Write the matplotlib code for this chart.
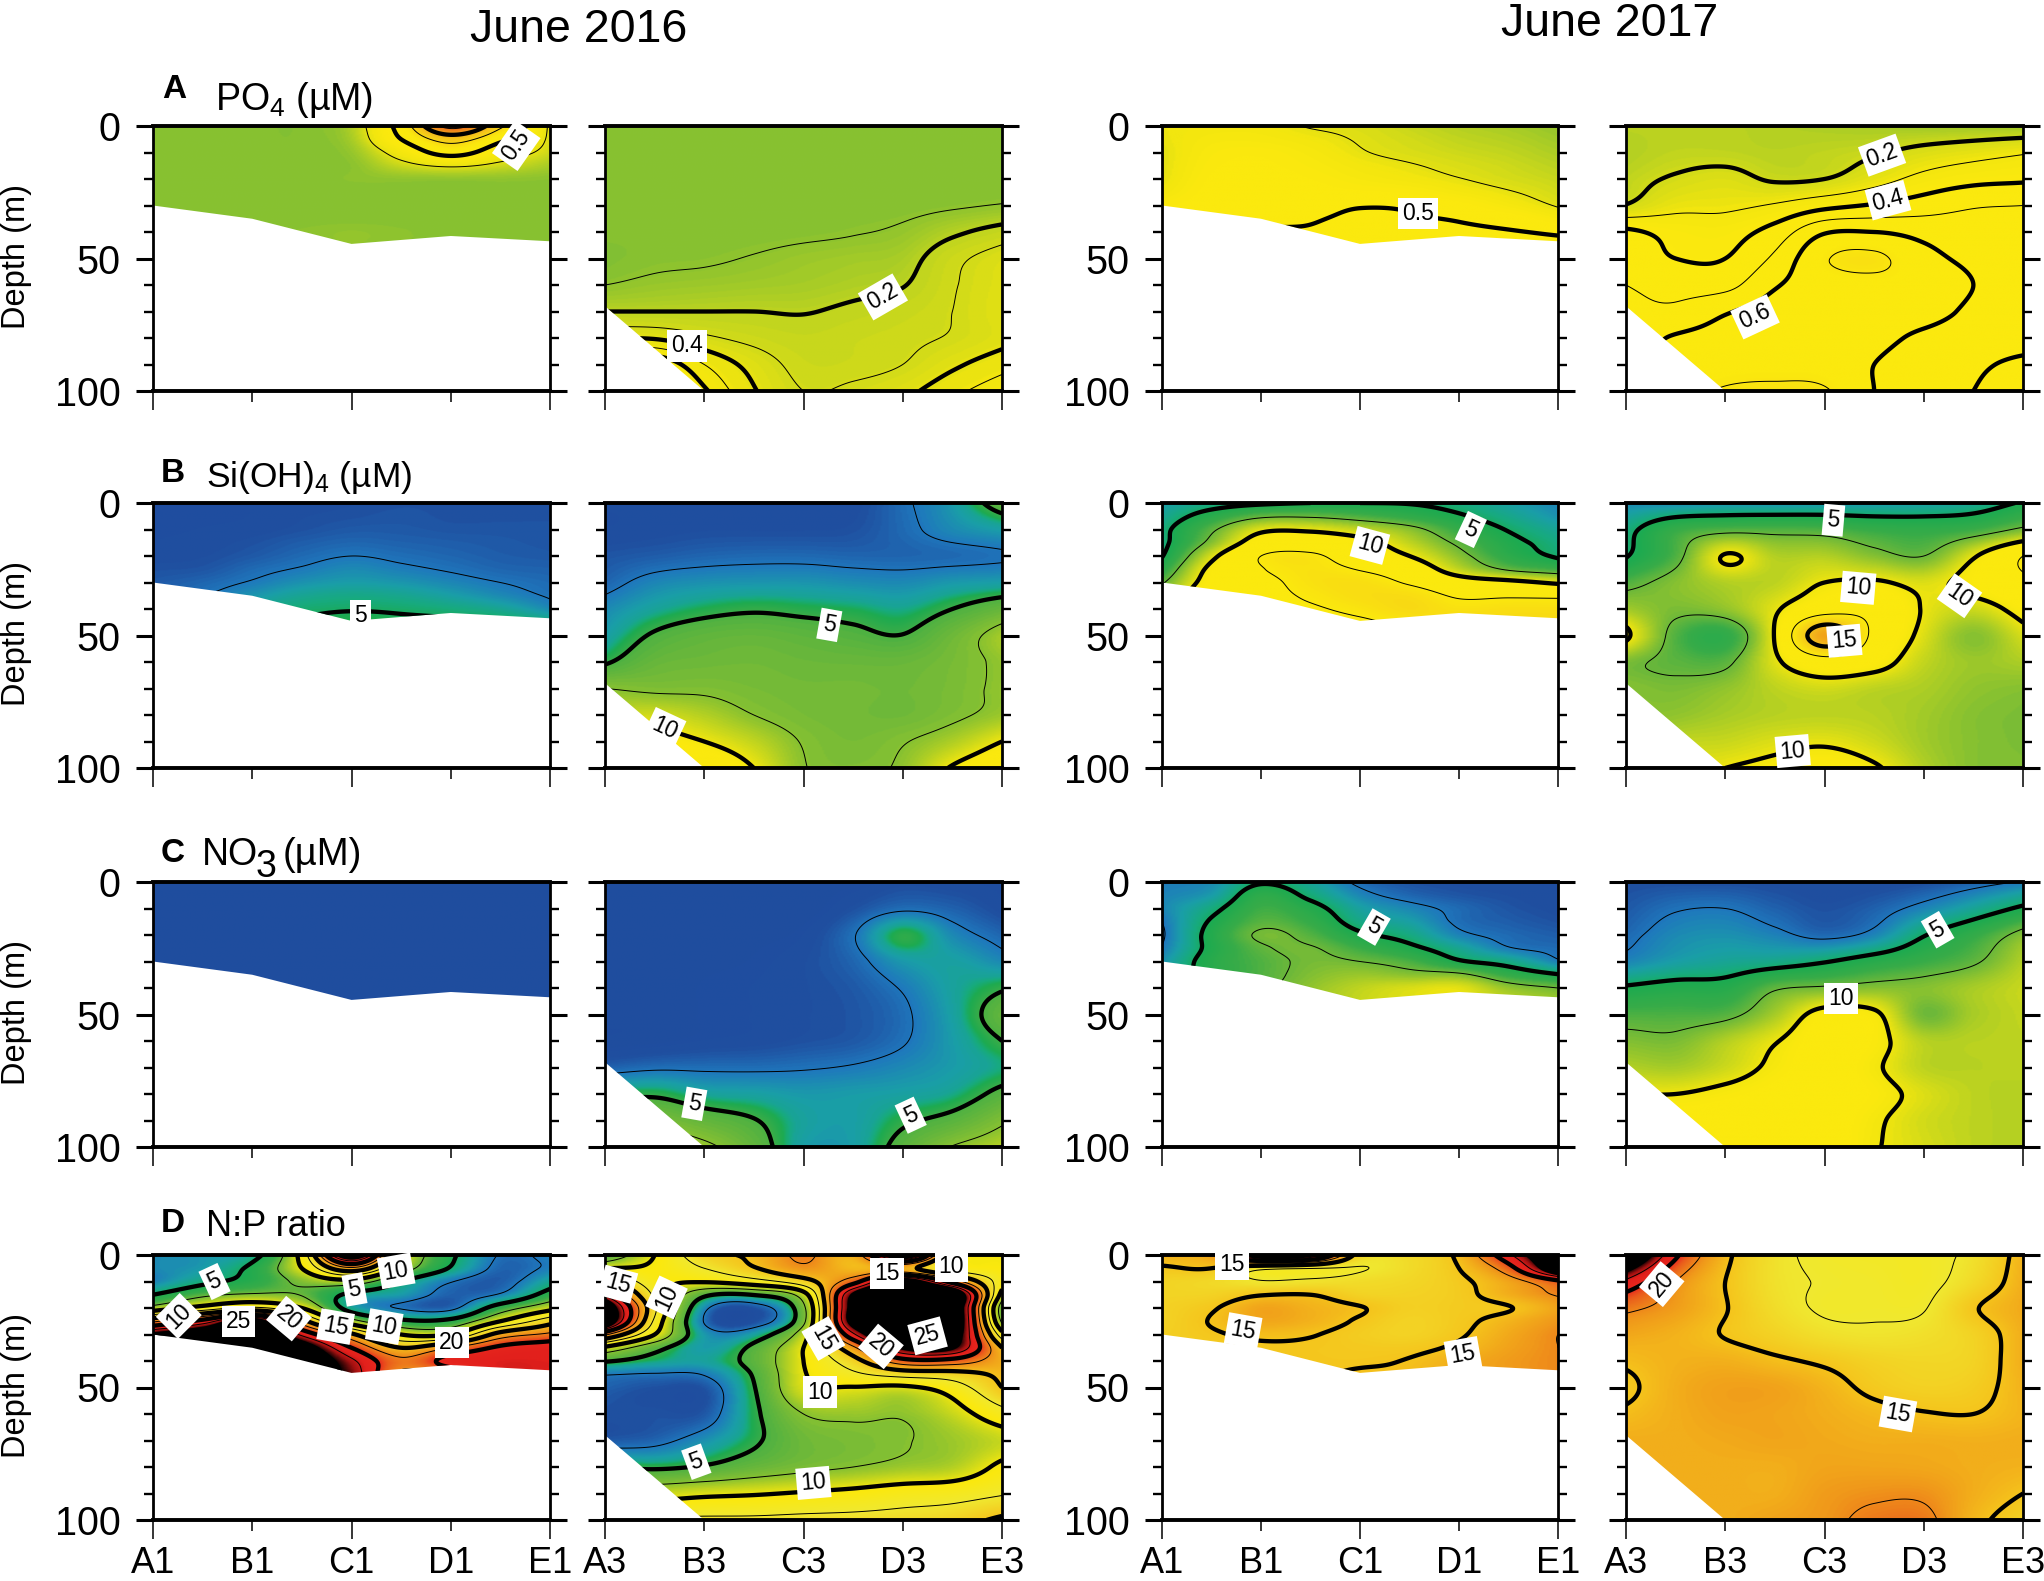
import numpy as np
import matplotlib
matplotlib.use('Agg')
import matplotlib.pyplot as plt
from matplotlib.colors import LinearSegmentedColormap, Normalize
from matplotlib.patches import Polygon

plt.rcParams['font.family'] = ['Liberation Sans', 'DejaVu Sans']
plt.rcParams['mathtext.default'] = 'regular'

W, H = 2044, 1581
STATIONS = [0, 0.5, 1, 1.5, 2, 2.5, 3, 3.5, 4]
D_SHALLOW = [0, 5, 10, 15, 20, 25, 30, 35, 40, 45]
D_DEEP = [0, 10, 20, 30, 40, 50, 60, 70, 80, 90, 100]
D_FINE = [0, 5, 10, 15, 20, 25, 30, 35, 40, 45, 50, 60, 70, 80, 90, 100]
BOTTOM_1 = [30, 35, 44.5, 41.5, 43.5]
TICKS_1 = ['A1', 'B1', 'C1', 'D1', 'E1']
TICKS_3 = ['A3', 'B3', 'C3', 'D3', 'E3']

PO4_16_1 = [
    [.08, .08, .08, .08, .16, .60, 1.35, .80, .22],
    [.08, .08, .08, .08, .14, .50, .85, .55, .22],
    [.08, .08, .08, .08, .11, .33, .58, .36, .20],
    [.08, .08, .08, .08, .09, .20, .27, .21, .14],
    [.08, .08, .08, .08, .09, .10, .10, .10, .09],
    [.08, .08, .08, .08, .08, .08, .08, .08, .08],
    [.08, .08, .08, .08, .08, .08, .08, .08, .08],
    [.08, .08, .08, .08, .08, .08, .08, .08, .08],
    [.08, .08, .08, .09, .10, .09, .08, .08, .08],
    [.08, .08, .08, .09, .10, .09, .08, .08, .08],
]
PO4_16_3 = [
    [.08, .08, .08, .08, .08, .08, .08, .08, .08],
    [.08, .08, .08, .08, .08, .08, .08, .08, .08],
    [.08, .08, .08, .08, .08, .08, .08, .08, .08],
    [.08, .08, .08, .08, .08, .08, .08, .09, .105],
    [.08, .08, .08, .08, .085, .095, .115, .18, .24],
    [.07, .085, .09, .105, .125, .14, .16, .27, .35],
    [.10, .12, .13, .14, .15, .17, .195, .29, .37],
    [.20, .20, .20, .20, .195, .22, .25, .30, .38],
    [.40, .39, .32, .27, .24, .26, .28, .31, .37],
    [.70, .70, .50, .36, .27, .27, .30, .38, .46],
    [.90, .90, .62, .41, .30, .32, .37, .47, .57],
]
PO4_17_1 = [
    [.28, .30, .30, .24, .22, .18, .15, .13, .10],
    [.27, .33, .33, .29, .24, .20, .17, .15, .12],
    [.25, .36, .38, .33, .26, .22, .19, .17, .14],
    [.25, .38, .40, .36, .30, .26, .22, .19, .16],
    [.26, .40, .42, .39, .34, .30, .255, .21, .18],
    [.30, .42, .43, .42, .40, .38, .32, .26, .20],
    [.38, .43, .45, .46, .49, .48, .42, .33, .24],
    [.42, .44, .47, .49, .52, .51, .49, .44, .34],
    [.42, .45, .505, .51, .54, .53, .52, .51, .48],
    [.42, .45, .50, .52, .56, .54, .54, .54, .53],
]
PO4_17_3 = [
    [.16, .16, .16, .15, .14, .13, .12, .12, .12],
    [.15, .17, .17, .16, .17, .19, .23, .26, .29],
    [.17, .21, .23, .19, .20, .26, .33, .37, .385],
    [.205, .27, .28, .31, .37, .41, .45, .49, .50],
    [.42, .37, .36, .44, .59, .60, .57, .55, .54],
    [.46, .40, .40, .52, .69, .72, .63, .58, .56],
    [.50, .47, .47, .59, .65, .67, .66, .60, .55],
    [.52, .52, .59, .64, .66, .66, .64, .58, .55],
    [.55, .61, .64, .66, .66, .63, .58, .55, .55],
    [.50, .63, .66, .67, .66, .60, .56, .58, .63],
    [.60, .66, .71, .72, .71, .60, .57, .60, .70],
]
SI_16_1 = [
    [1.2, 1.2, 1.3, 1.4, 1.5, 1.6, 1.6, 1.6, 1.6],
    [1.2, 1.2, 1.3, 1.5, 1.6, 1.7, 1.6, 1.6, 1.6],
    [1.2, 1.3, 1.4, 1.6, 1.8, 1.8, 1.7, 1.7, 1.7],
    [1.3, 1.4, 1.6, 1.9, 2.1, 2.0, 1.9, 1.8, 1.7],
    [1.4, 1.5, 1.8, 2.2, 2.5, 2.3, 2.1, 1.9, 1.8],
    [1.6, 1.7, 2.2, 2.6, 3.0, 2.7, 2.4, 2.1, 2.0],
    [1.8, 2.1, 2.6, 3.2, 3.5, 3.3, 2.9, 2.5, 2.2],
    [2.0, 2.5, 3.3, 4.0, 4.3, 4.1, 3.6, 3.0, 2.4],
    [2.5, 3.5, 4.2, 4.7, 4.9, 4.8, 4.5, 4.0, 3.0],
    [3.0, 4.5, 5.5, 5.2, 5.5, 5.3, 5.3, 5.2, 4.5],
]
SI_16_3 = [
    [1.3, 1.3, 1.3, 1.3, 1.3, 1.4, 2.3, 3.5, 6.0],
    [1.3, 1.4, 1.5, 1.5, 1.5, 1.6, 2.2, 3.0, 3.6],
    [1.7, 1.9, 2.1, 2.2, 2.2, 2.1, 2.1, 2.2, 2.4],
    [2.1, 2.9, 3.2, 3.3, 3.3, 3.1, 3.0, 3.4, 3.6],
    [3.0, 3.9, 4.5, 4.8, 4.6, 4.4, 4.1, 5.0, 6.2],
    [3.6, 5.2, 5.9, 6.1, 5.8, 5.4, 5.05, 6.5, 8.2],
    [4.8, 6.2, 6.5, 6.6, 6.4, 6.3, 6.3, 6.9, 7.8],
    [7.5, 7.2, 7.2, 6.9, 6.7, 6.7, 6.6, 7.0, 7.8],
    [9.0, 9.2, 8.5, 7.5, 6.9, 6.7, 6.6, 7.2, 8.0],
    [12, 11, 10, 8.8, 7.4, 6.9, 7.4, 8.4, 10],
    [13, 13, 12, 10, 7.6, 7.2, 7.8, 10.2, 12],
]
SI_17_1 = [
    [3.5, 4.2, 4.7, 5.0, 5.0, 4.9, 4.4, 3.6, 2.8],
    [4.0, 5.8, 7.2, 7.3, 6.8, 6.1, 5.2, 4.2, 3.2],
    [4.5, 7.2, 9.6, 9.7, 9.0, 8.0, 6.3, 4.9, 3.9],
    [4.5, 8.0, 11, 11.3, 10.6, 9.0, 7.2, 5.5, 4.4],
    [4.9, 9.5, 12.5, 12.8, 11.3, 10, 8.0, 6.0, 4.8],
    [6.0, 10.5, 12.4, 13, 12.4, 11.3, 9.0, 7.3, 6.5],
    [7.3, 10.9, 12, 13, 13.2, 12.3, 11, 10.5, 9.7],
    [8.5, 11.5, 12, 12.7, 13.3, 13.3, 12.3, 12.3, 12.2],
    [9.5, 12, 12, 12.3, 12.9, 13.5, 13, 13.2, 13.2],
    [9.5, 12, 11.5, 11.8, 12.2, 12.9, 13.5, 13.5, 13.5],
]
SI_17_3 = [
    [3.0, 3.0, 3.2, 3.2, 3.3, 3.4, 3.6, 4.0, 5.2],
    [4.5, 6.4, 7.0, 7.0, 6.9, 6.4, 6.2, 6.6, 7.8],
    [4.9, 7.0, 10.1, 8.8, 8.8, 8.0, 7.5, 9.8, 12.5],
    [7.0, 8.0, 8.8, 9.0, 10, 10.2, 9.6, 10.6, 12],
    [8.5, 7.8, 8.2, 9.8, 11.5, 11.8, 9.9, 9.3, 10.6],
    [10.3, 7.0, 6.2, 10.1, 16.5, 12, 9.6, 8.0, 9.5],
    [7.8, 7.2, 7.2, 9.7, 11.5, 10.7, 9.1, 8.4, 8.7],
    [8.0, 7.8, 8.2, 9.0, 9.4, 9.0, 8.7, 8.2, 8.0],
    [8.0, 8.2, 8.6, 8.9, 9.0, 8.9, 8.5, 8.0, 7.8],
    [8.0, 9.0, 9.2, 9.6, 9.8, 9.3, 8.5, 8.0, 7.8],
    [8.0, 9.5, 10, 10.4, 10.9, 10.2, 8.8, 8.0, 7.9],
]
NO3_16_1 = [
    [1.0, 1.0, 1.0, 1.0, 1.0, 1.0, 1.0, 1.0, 1.0],
    [1.0, 1.0, 1.0, 1.0, 1.0, 1.0, 1.0, 1.0, 1.0],
    [1.0, 1.0, 1.0, 1.0, 1.0, 1.0, 1.0, 1.0, 1.0],
    [1.0, 1.0, 1.0, 1.0, 1.0, 1.0, 1.0, 1.0, 1.0],
    [1.0, 1.0, 1.0, 1.0, 1.0, 1.0, 1.0, 1.0, 1.0],
    [1.0, 1.0, 1.0, 1.0, 1.0, 1.0, 1.0, 1.0, 1.0],
    [1.0, 1.0, 1.0, 1.0, 1.0, 1.0, 1.0, 1.0, 1.0],
    [1.0, 1.0, 1.0, 1.0, 1.0, 1.0, 1.0, 1.0, 1.0],
    [1.0, 1.0, 1.0, 1.0, 1.0, 1.0, 1.0, 1.0, 1.0],
    [1.0, 1.0, 1.0, 1.0, 1.0, 1.0, 1.0, 1.0, 1.0],
]
NO3_16_3 = [
    [1.0, 1.0, 1.0, 1.0, 1.0, 1.1, 1.4, 1.3, 1.2],
    [1.0, 1.0, 1.0, 1.0, 1.0, 1.6, 2.3, 2.0, 1.4],
    [1.0, 1.0, 1.0, 1.1, 1.3, 2.4, 4.7, 3.0, 2.1],
    [1.0, 1.0, 1.1, 1.2, 1.5, 2.1, 3.4, 3.7, 3.0],
    [1.0, 1.0, 1.2, 1.3, 1.5, 1.8, 2.6, 3.8, 4.8],
    [1.0, 1.0, 1.2, 1.3, 1.5, 1.7, 2.3, 3.7, 6.0],
    [1.0, 1.1, 1.3, 1.4, 1.6, 1.8, 2.4, 3.5, 5.0],
    [2.0, 2.3, 2.3, 2.3, 2.4, 2.6, 3.0, 3.5, 4.2],
    [4.5, 4.7, 3.9, 3.7, 3.4, 3.5, 3.7, 4.1, 5.5],
    [7.0, 7.0, 6.0, 5.1, 3.8, 3.6, 4.7, 5.6, 7.2],
    [9.0, 9.0, 8.0, 6.0, 3.6, 3.6, 5.7, 7.6, 8.6],
]
NO3_17_1 = [
    [2.6, 3.0, 4.8, 3.8, 2.2, 1.6, 1.4, 1.3, 1.2],
    [2.8, 3.5, 6.0, 4.6, 2.9, 2.1, 1.7, 1.5, 1.3],
    [2.9, 4.5, 6.6, 5.6, 3.7, 2.9, 2.2, 1.7, 1.4],
    [2.5, 5.2, 7.1, 6.3, 4.3, 3.6, 2.3, 1.9, 1.6],
    [2.3, 5.6, 7.7, 7.0, 5.3, 4.4, 2.8, 2.2, 1.9],
    [2.6, 5.5, 7.3, 7.6, 6.5, 5.4, 4.0, 2.6, 2.2],
    [3.2, 5.8, 7.0, 7.7, 7.5, 6.8, 5.2, 4.3, 2.7],
    [3.5, 5.8, 7.0, 7.9, 8.3, 8.0, 7.8, 6.2, 5.1],
    [4.0, 5.8, 7.1, 8.2, 9.0, 9.5, 9.7, 8.2, 7.5],
    [4.2, 6.0, 7.2, 8.4, 9.2, 9.7, 9.8, 9.0, 8.5],
]
NO3_17_3 = [
    [1.5, 1.5, 1.5, 1.4, 1.3, 1.3, 1.5, 2.0, 2.6],
    [1.8, 2.4, 2.5, 2.0, 1.6, 2.0, 2.9, 4.0, 5.3],
    [2.2, 3.0, 3.2, 2.8, 2.2, 2.9, 4.9, 6.3, 8.0],
    [2.9, 3.6, 4.0, 4.3, 4.9, 5.8, 6.5, 7.3, 8.8],
    [5.2, 5.6, 5.7, 7.3, 7.7, 8.0, 8.0, 8.6, 9.2],
    [6.9, 6.9, 7.1, 8.6, 10.6, 10.3, 7.6, 8.6, 9.1],
    [7.9, 7.8, 8.8, 9.9, 11, 10.5, 8.9, 8.9, 9.0],
    [8.8, 8.6, 9.3, 10.3, 11, 10.2, 9.0, 8.9, 9.0],
    [10, 10, 10.4, 10.8, 11, 10.5, 9.6, 9.0, 8.8],
    [11, 11, 11, 11, 11, 10.2, 9.4, 9.0, 8.8],
    [11, 11, 11, 11, 11, 10.1, 9.5, 9.0, 8.8],
]
NP_16_1 = [
    [3.0, 3.3, 4.2, 11, 27, 11, 5.5, 2.4, 2.8],
    [3.0, 3.5, 5.5, 10, 17, 9.0, 4.8, 2.1, 2.7],
    [2.8, 4.5, 5.8, 8.0, 9.0, 5.0, 2.6, 1.9, 4.0],
    [5.0, 7.0, 7.8, 7.4, 4.5, 3.5, 2.0, 2.7, 6.0],
    [8.5, 11, 13, 10, 4.0, 2.4, 2.1, 6.2, 9.2],
    [17, 21, 26, 16, 8.5, 5.5, 5.7, 10, 14],
    [25, 27, 29, 22, 15.5, 10, 10, 16, 18],
    [27, 28, 29, 26.5, 20, 15, 17.5, 20.5, 21.5],
    [27, 29, 29, 28, 23, 18, 21, 22, 22],
    [27, 29, 29, 28, 24, 17, 18, 22, 22],
]
NP_16_3 = [
    [5.0, 10, 14, 15.5, 18, 16, 27, 12, 10],
    [10, 10.5, 12.5, 14.8, 17, 15.5, 16, 11.5, 10.5],
    [16, 11, 10.2, 11.5, 14, 19, 26, 19, 11],
    [22, 12, 5.5, 5.1, 9.0, 25, 30, 28, 9.0],
    [28, 13, 3.0, 1.6, 7.0, 26, 30, 28, 6.0],
    [28, 12, 2.4, 1.5, 7.0, 26, 30, 28, 7.0],
    [18, 10, 3.4, 3.8, 9.0, 22, 30, 27, 11],
    [9.5, 5.8, 3.5, 5.5, 10, 17, 25, 25, 15],
    [5.2, 4.2, 3.8, 5.8, 10, 14, 19, 19, 16],
    [2.6, 2.4, 2.6, 5.2, 9.8, 12, 13.5, 14, 15.5],
    [2.0, 1.6, 1.7, 4.9, 9.5, 9.9, 9.6, 11.3, 15],
    [1.6, 1.6, 1.8, 4.6, 7.5, 7.9, 7.7, 9.0, 11.5],
    [1.8, 2.1, 3.2, 4.7, 6.5, 7.0, 7.4, 8.0, 9.0],
    [5.0, 4.7, 5.2, 6.2, 7.0, 7.5, 8.0, 8.5, 10.5],
    [9.0, 9.0, 9.5, 9.8, 10.2, 10.6, 11.2, 11.5, 12.3],
    [14, 13, 13, 13, 13.2, 13.3, 13.5, 14, 15.5],
]
NP_17_1 = [
    [15.9, 17, 27, 25, 14, 13.5, 15.5, 22, 30],
    [14.8, 15, 13.2, 12.6, 12.4, 13.4, 15, 19, 28],
    [14, 13.6, 12.6, 12.9, 13.3, 13.7, 14.6, 16.5, 19.5],
    [13.9, 14, 14.9, 15, 14, 14, 14.5, 16, 17.7],
    [14, 14.8, 16.4, 15.8, 15.1, 14.2, 14.5, 14.9, 16.5],
    [14, 15.1, 16.3, 15.8, 14.8, 14, 14.6, 15.7, 17],
    [14.2, 14.8, 15.3, 15.1, 14.4, 14, 14.8, 16.2, 17.5],
    [14.2, 14.5, 14.8, 14.8, 14.6, 14.6, 15.3, 16.5, 17.5],
    [14.2, 14.5, 14.8, 14.8, 14.8, 15.1, 16, 16.8, 17.5],
    [14.2, 14.5, 14.8, 14.8, 15.2, 15.3, 16.2, 16.8, 17.5],
]
NP_17_3 = [
    [30, 20.5, 15.5, 13, 12.2, 12, 12, 13, 15.8],
    [22, 17.5, 15, 13, 12.4, 12.2, 12, 13.5, 16],
    [18, 16.7, 15.1, 13.3, 12.3, 12.3, 12.4, 14.8, 16.2],
    [16.3, 15.8, 14.9, 14, 13.1, 12.8, 13.1, 14, 16],
    [15.3, 15.8, 15.9, 15.3, 14.7, 14, 13.7, 14, 16],
    [14.6, 16, 16.6, 16.5, 15.7, 14.6, 14.1, 14.4, 15.8],
    [15.3, 16, 16.5, 16.4, 16, 15.5, 15.1, 15, 15.7],
    [16, 16, 16.2, 16.4, 16.2, 16, 16, 15.9, 16],
    [16, 16, 16, 16, 16.4, 16.4, 16.3, 16, 15.8],
    [16, 16, 16, 16, 16.8, 17.2, 17.2, 16, 15],
    [16, 16, 16, 16.5, 17, 18, 18, 15.6, 14],
]

# contour labels: station, depth, text, rotation
LAB_PO4_16_1 = [(3.66, 7.4, '0.5', 55)]
LAB_PO4_16_3 = [(2.8, 64.5, '0.2', 30), (.83, 83, '0.4', 0)]
LAB_PO4_17_1 = [(2.59, 33, '0.5', 0)]
LAB_PO4_17_3 = [(2.58, 11, '0.2', 20), (2.64, 28, '0.4', 15), (1.3, 72, '0.6', 25)]
LAB_SI_16_1 = [(2.09, 42.4, '5', 0)]
LAB_SI_16_3 = [(2.26, 46, '5', -10), (.6, 85, '10', -25)]
LAB_SI_17_1 = [(3.12, 10, '5', -25), (2.1, 16, '10', -15)]
LAB_SI_17_3 = [(2.09, 6.5, '5', -5), (2.34, 32, '10', -5), (3.36, 35, '10', -35),
               (2.2, 52, '15', 5), (1.68, 93.6, '10', 5)]
LAB_NO3_16_1 = []
LAB_NO3_16_3 = [(.9, 83.7, '5', -10), (3.08, 88, '5', 25)]
LAB_NO3_17_1 = [(2.14, 17, '5', -30)]
LAB_NO3_17_3 = [(3.14, 18, '5', 30), (2.17, 44, '10', 0)]
LAB_NP_16_1 = [(.62, 10, '5', 25), (2.45, 6, '10', 10), (2.03, 13, '5', 10), (.26, 23, '10', 45),
               (.86, 25, '25', 0), (1.37, 24, '20', -40), (1.84, 27, '15', -10),
               (2.33, 27, '10', -10), (3.01, 33, '20', 0)]
LAB_NP_16_3 = [(.13, 11, '15', -15), (.62, 16, '10', 65), (2.84, 7, '15', 0), (3.49, 4.4, '10', 0),
               (2.2, 31.5, '15', -60), (2.78, 34.5, '20', -40), (3.25, 30.5, '25', 15),
               (2.17, 51.7, '10', 0), (.92, 78, '5', 20), (2.1, 86, '10', 5)]
LAB_NP_17_1 = [(.71, 3.5, '15', 0), (.82, 28.5, '15', -10), (3.04, 37.5, '15', 10)]
LAB_NP_17_3 = [(.36, 11, '20', 50), (2.74, 60, '15', -10)]

THICK_5 = [5, 10, 15, 20, 25]
THIN_5 = [2.5, 7.5, 12.5, 17.5, 22.5]
ROWS = [
    [(PO4_16_1, D_SHALLOW, LAB_PO4_16_1, [.5, 1.0, 1.5], [.25, .75, 1.25]),
     (PO4_16_3, D_DEEP, LAB_PO4_16_3, [.2, .4, .6, .8], [.1, .3, .5, .7]),
     (PO4_17_1, D_SHALLOW, LAB_PO4_17_1, [.5], [.25]),
     (PO4_17_3, D_DEEP, LAB_PO4_17_3, [.2, .4, .6, .8], [.1, .3, .5, .7])],
    [(SI_16_1, D_SHALLOW, LAB_SI_16_1, THICK_5, THIN_5),
     (SI_16_3, D_DEEP, LAB_SI_16_3, THICK_5, THIN_5),
     (SI_17_1, D_SHALLOW, LAB_SI_17_1, THICK_5, THIN_5),
     (SI_17_3, D_DEEP, LAB_SI_17_3, THICK_5, THIN_5)],
    [(NO3_16_1, D_SHALLOW, LAB_NO3_16_1, THICK_5, THIN_5),
     (NO3_16_3, D_DEEP, LAB_NO3_16_3, THICK_5, THIN_5),
     (NO3_17_1, D_SHALLOW, LAB_NO3_17_1, THICK_5, THIN_5),
     (NO3_17_3, D_DEEP, LAB_NO3_17_3, THICK_5, THIN_5)],
    [(NP_16_1, D_SHALLOW, LAB_NP_16_1, THICK_5, THIN_5),
     (NP_16_3, D_FINE, LAB_NP_16_3, THICK_5, THIN_5),
     (NP_17_1, D_SHALLOW, LAB_NP_17_1, THICK_5, THIN_5),
     (NP_17_3, D_DEEP, LAB_NP_17_3, THICK_5, THIN_5)],
]

COL_X = [153, 605, 1162, 1626]
COL_W = [397, 397, 396, 397]
ROW_Y = [126, 503, 882, 1255]
ROW_H = 265


def make_cmap(mid):
    stops = [(0, '#1f4a9c'), (1.5, '#1f4fa0'), (2.5, '#1f78bd'), (3.5, '#1a9ea8'), (4.5, '#17ab7c'),
             (5.2, '#1daa50'), (6.5, '#38ac48'), (7.5, '#6cb83a'), (9, '#bfd41f'), (10, '#f2e60f'),
             (10.5, '#fbe90e'), (12.5, mid), (15, '#f5c41c'), (17, '#f0981a'), (19, '#ea5a1c'),
             (20, '#e8281e'), (22, '#e2201c'), (23.5, '#a01010'), (25, '#000000'), (30, '#000000')]
    return LinearSegmentedColormap.from_list('odv', [(v / 30, c) for v, c in stops])


cmap = make_cmap('#fbe90e')
cmap_np = make_cmap('#f0e830')
norm = Normalize(0, 30)


def upsample(xs, f, xq):
    # cubic hermite along axis 0
    xs = np.asarray(xs, float)
    m = np.gradient(f, xs, axis=0)
    i = np.clip(np.searchsorted(xs, xq) - 1, 0, len(xs) - 2)
    h = xs[i + 1] - xs[i]
    t = (xq - xs[i]) / h
    sh = (-1,) + (1,) * (f.ndim - 1)
    t = t.reshape(sh)
    h = h.reshape(sh)
    return ((2 * t**3 - 3 * t**2 + 1) * f[i] + (t**3 - 2 * t**2 + t) * h * m[i]
            + (-2 * t**3 + 3 * t**2) * f[i + 1] + (t**3 - t**2) * h * m[i + 1])


def px(x, y):
    return x / W, 1 - y / H


def to_colour_scale(fine, col, row):
    # each nutrient had its own colour stretch in the original sections
    if row == 0:
        if col == 1:
            return np.interp(fine, [.05, .08, .2, .4, .6, .9], [7.8, 8.0, 9.0, 9.8, 10.2, 10.6])
        if col == 0:
            return np.interp(fine, [.05, .08, .25, .5, .8, 1.0, 1.3, 1.6],
                             [7.8, 8.0, 9.8, 11, 14.5, 16.5, 19, 22])
        return np.interp(fine, [.05, .08, .2, .3, .4, .6, .8, 1.0],
                         [7.8, 8.0, 9.4, 10.1, 10.6, 11.5, 14, 16.5])
    if col == 1:
        return np.interp(fine, [0, 4, 5, 7.5, 10, 30], [0, 4, 6.9, 8, 10, 30])
    return fine


def draw_panel(ax, field, depths, labels, thick, thin, col, row):
    z = np.array(field, float)
    xq = np.linspace(0, 4, 240)
    dq = np.linspace(0, depths[-1], int(depths[-1] * 4) + 1)
    fine = upsample(depths, z, dq)
    fine = upsample(STATIONS, fine.T, xq).T
    shown = to_colour_scale(fine, col, row)
    if col % 2 == 0:
        verts = [(0, 0), (4, 0)] + [(4 - i, BOTTOM_1[4 - i]) for i in range(5)]
    else:
        verts = [(0, 0), (4, 0), (4, 100), (1, 100), (0, 68)]
    im = ax.imshow(shown, extent=[0, 4, depths[-1], 0], aspect='auto', norm=norm,
                   cmap=cmap_np if row == 3 else cmap, interpolation='bilinear', zorder=1)
    clip = Polygon(verts, transform=ax.transData, fill=False, edgecolor='none')
    ax.add_patch(clip)
    im.set_clip_path(clip)
    for levels, lw in ((thin, .7), (thick, 3.1)):
        cs = ax.contour(xq, dq, fine, levels=levels, colors='k', linewidths=lw, zorder=2)
        cs.set_clip_path(clip)
    for x, d, s, rot in labels:
        ax.text(x, d, s, rotation=rot, ha='center', va='center', fontsize=16.5, zorder=4,
                rotation_mode='anchor', bbox=dict(fc='white', ec='none', pad=3))
    ax.set_xlim(0, 4)
    ax.set_ylim(100, 0)
    ax.spines['top'].set_linewidth(2.8)
    ax.spines['bottom'].set_linewidth(2.8)
    ax.spines['left'].set_linewidth(2.0)
    ax.spines['right'].set_linewidth(2.0)
    ax.set_yticks([0, 50, 100])
    ax.set_yticks(np.arange(0, 101, 10), minor=True)
    ax.tick_params(axis='y', which='major', left=True, right=True, length=12, width=2.2, pad=11.5,
                   labelsize=28.5)
    ax.tick_params(axis='y', which='minor', left=True, right=True, length=6.5, width=1.7)
    ax.tick_params(axis='y', labelleft=(col % 2 == 0))
    ax.set_xticks(range(5))
    ax.tick_params(axis='x', length=14, width=1.1, pad=5, labelsize=26,
                   labelbottom=(row == 3))
    if row == 3:
        ax.set_xticklabels(TICKS_1 if col % 2 == 0 else TICKS_3)
    for i, tick in enumerate(ax.xaxis.get_major_ticks()):
        if i % 2 == 1:
            tick.tick1line.set_markersize(8)


fig = plt.figure(figsize=(W / 100, H / 100), dpi=100)
for r, panels in enumerate(ROWS):
    for c, (field, depths, labels, thick, thin) in enumerate(panels):
        ax = fig.add_axes([COL_X[c] / W, 1 - (ROW_Y[r] + ROW_H) / H, COL_W[c] / W, ROW_H / H])
        draw_panel(ax, field, depths, labels, thick, thin, c, r)
    fig.text(*px(17, ROW_Y[r] + ROW_H / 2 - 2), 'Depth (m)', rotation=90, ha='center', va='center', fontsize=23.5)

fig.text(*px(579, 30), 'June 2016', ha='center', va='center', fontsize=33.5)
fig.text(*px(1610, 24), 'June 2017', ha='center', va='center', fontsize=33.5)

fig.text(*px(174, 89), 'A', ha='center', va='center', fontsize=24, fontweight='bold')
fig.text(*px(215, 100), r'PO$_4$ (µM)', ha='left', va='center', fontsize=27)
fig.text(*px(173, 473), 'B', ha='center', va='center', fontsize=24, fontweight='bold')
fig.text(*px(206, 478), r'Si(OH)$_4$ (µM)', ha='left', va='center', fontsize=25.5)
fig.text(*px(173, 853), 'C', ha='center', va='center', fontsize=24, fontweight='bold')
fig.text(*px(202, 855), 'NO', ha='left', va='center', fontsize=27)
fig.text(*px(256, 867), '3', ha='left', va='center', fontsize=27)
fig.text(*px(283, 855), '(µM)', ha='left', va='center', fontsize=27.5)
fig.text(*px(173, 1224), 'D', ha='center', va='center', fontsize=24, fontweight='bold')
fig.text(*px(206, 1226), 'N:P ratio', ha='left', va='center', fontsize=26)

fig.savefig('out.png', dpi=100)
